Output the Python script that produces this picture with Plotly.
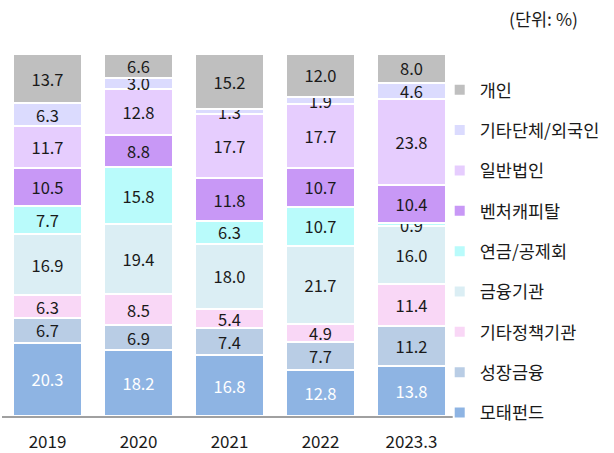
import plotly.graph_objects as go

categories = ["2019", "2020", "2021", "2022", "2023.3"]

series_names = ["모태펀드", "성장금융", "기타정책기관", "금융기관", "연금/공제회",
                "벤처캐피탈", "일반법인", "기타단체/외국인", "개인"]

motae = [20.3, 18.2, 16.8, 12.8, 13.8]
growth = [6.7, 6.9, 7.4, 7.7, 11.2]
policy_other = [6.3, 8.5, 5.4, 4.9, 11.4]
financial = [16.9, 19.4, 18.0, 21.7, 16.0]
pension = [7.7, 15.8, 6.3, 10.7, 0.9]
vc = [10.5, 8.8, 11.8, 10.7, 10.4]
corp = [11.7, 12.8, 17.7, 17.7, 23.8]
org_foreign = [6.3, 3.0, 1.3, 1.9, 4.6]
individual = [13.7, 6.6, 15.2, 12.0, 8.0]

series_values = [motae, growth, policy_other, financial, pension, vc, corp, org_foreign, individual]
colors = ["#8EB4E3", "#B9CDE5", "#F9D7F6", "#DBEEF4", "#B9FBFB",
          "#C898F6", "#E6CDFE", "#DBDBFE", "#BFBFBF"]
text_colors = ["white"] + ["#1a1a1a"] * 8

FONT = "Noto Sans CJK KR"

fig = go.Figure()
n = len(series_names)
for i, (name, vals) in enumerate(zip(series_names, series_values)):
    fig.add_trace(go.Bar(
        x=categories, y=vals, name=name,
        marker=dict(color=colors[i], line=dict(color="white", width=2)),
        text=[f"{v:.1f}" for v in vals],
        textposition="inside", insidetextanchor="middle",
        constraintext="none", textangle=0,
        textfont=dict(color=text_colors[i], size=16.5, family=FONT),
        legendgroup=name, legendrank=n - i,
        hoverinfo="skip",
    ))

fig.update_layout(
    barmode="stack",
    bargap=0.24,
    width=614, height=453,
    margin=dict(l=2, r=157, t=53, b=37),
    paper_bgcolor="white", plot_bgcolor="white",
    font=dict(family=FONT, size=17, color="#1a1a1a"),
    showlegend=True,
    legend=dict(
        traceorder="grouped",
        tracegroupgap=14.6,
        x=0.962, xanchor="left", y=0.948, yanchor="top",
        font=dict(size=17.5, family=FONT),
        itemwidth=30,
        bgcolor="rgba(0,0,0,0)",
    ),
    annotations=[dict(
        text="(단위: %)", x=1.0, xref="paper", xanchor="left", xshift=50,
        y=1.0, yref="paper", yanchor="bottom", yshift=20, showarrow=False,
        font=dict(size=17.5, family=FONT),
    )],
)
fig.update_xaxes(showline=True, linecolor="#A0A0A0", linewidth=2,
                 tickfont=dict(size=17, family=FONT), automargin=False,
                 ticks="outside", ticklen=10, tickcolor="rgba(0,0,0,0)",
                 showgrid=False)
fig.update_yaxes(range=[0, 100.3], visible=False, showgrid=False, automargin=False)

fig.write_html("out.html", config={"displayModeBar": False},
               post_script="document.body.style.margin='0';")
